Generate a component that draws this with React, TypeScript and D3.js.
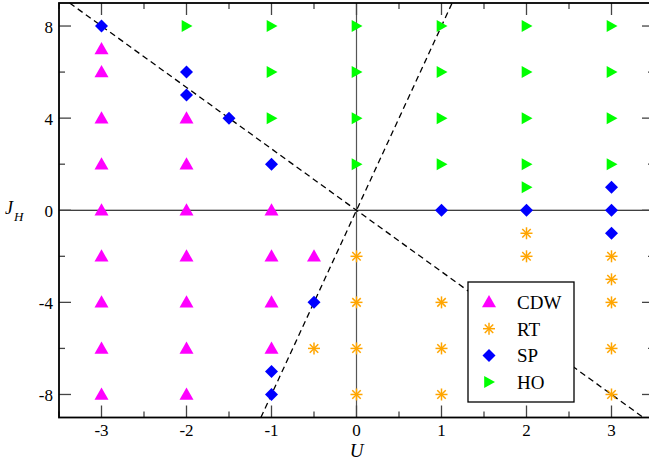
import React from "react";
import * as d3 from "d3";

const W = 649;
const H = 465;

const cdwU = [-3, -3, -3, -3, -3, -3, -3, -3, -3, -2, -2, -2, -2, -2, -2, -2, -1, -1, -1, -1, -0.5];
const cdwJ = [7, 6, 4, 2, 0, -2, -4, -6, -8, 4, 2, 0, -2, -4, -6, -8, 0, -2, -4, -6, -2];

const rtU = [-0.5, 0, 0, 0, 0, 1, 1, 1, 2, 2, 3, 3, 3, 3, 3];
const rtJ = [-6, -2, -4, -6, -8, -4, -6, -8, -1, -2, -2, -3, -4, -6, -8];

const spU = [-3, -2, -2, -1.5, -1, -0.5, -1, -1, 1, 2, 3, 3, 3];
const spJ = [8, 6, 5, 4, 2, -4, -7, -8, 0, 0, 1, 0, -1];

const hoU = [-2, -1, -1, -1, 0, 0, 0, 0, 1, 1, 1, 1, 2, 2, 2, 2, 2, 3, 3, 3, 3];
const hoJ = [8, 8, 6, 4, 8, 6, 4, 2, 8, 6, 4, 2, 8, 6, 4, 2, 1, 8, 6, 4, 2];

const xTicks = [-3, -2, -1, 0, 1, 2, 3];
const xMinor = [-3.5, -2.5, -1.5, -0.5, 0.5, 1.5, 2.5, 3.5];
const yTicks = [-8, -4, 0, 4, 8];
const yMinor = [-6, -2, 2, 6];

const slopes = [-8 / 3, 8];

const legendNames = ["CDW", "RT", "SP", "HO"];
const colors = ["#ff00ff", "#ffa500", "#0000ff", "#00ff00"];

const left = 59;
const right = 654;
const top = 3;
const bottom = 417.5;

function Marker({ kind, x, y }: { kind: number; x: number; y: number }) {
  const c = colors[kind];
  if (kind === 0) {
    const s = 7;
    return <path d={`M${x},${y - s} L${x + s},${y + s * 0.75} L${x - s},${y + s * 0.75} Z`} fill={c} />;
  }
  if (kind === 1) {
    const s = 6;
    const lines = [0, 45, 90, 135].map((a) => {
      const r = (a * Math.PI) / 180;
      return (
        <line key={a} x1={x - s * Math.cos(r)} y1={y - s * Math.sin(r)} x2={x + s * Math.cos(r)} y2={y + s * Math.sin(r)} stroke={c} strokeWidth={1.5} />
      );
    });
    return <g>{lines}</g>;
  }
  if (kind === 2) {
    const s = 6.5;
    return <path d={`M${x},${y - s} L${x + s},${y} L${x},${y + s} L${x - s},${y} Z`} fill={c} />;
  }
  const s = 6;
  return <path d={`M${x - s * 0.8},${y - s} L${x + s},${y} L${x - s * 0.8},${y + s} Z`} fill={c} />;
}

export default function App() {
  const x = d3.scaleLinear().domain([-3.5, 3.5]).range([left, right]);
  const y = d3.scaleLinear().domain([-9, 9]).range([bottom, top]);

  const series = [
    { u: cdwU, j: cdwJ },
    { u: rtU, j: rtJ },
    { u: spU, j: spJ },
    { u: hoU, j: hoJ },
  ];

  const dashLine = (m: number) => {
    const u0 = -3.5, u1 = 3.5;
    const clip = (p: [number, number]): [number, number] => {
      if (p[1] > 9) return [9 / m, 9];
      if (p[1] < -9) return [-9 / m, -9];
      return p;
    };
    const pts: [number, number][] = [clip([u0, m * u0]), clip([u1, m * u1])];
    return d3.line<[number, number]>().x((d) => x(d[0])).y((d) => y(d[1]))(pts) || "";
  };

  const tickLen = 12;
  const minorLen = 6;
  const font = "Liberation Serif, Tinos, Times New Roman, DejaVu Serif, serif";

  const lx = 468, ly = 282, lw = 106, lh = 120;

  return (
    <svg width={W} height={H} style={{ position: "absolute", left: 0, top: 0 }}>
      <rect x={0} y={0} width={W} height={H} fill="white" />
      <line x1={x(0)} x2={x(0)} y1={top} y2={bottom} stroke="#555" strokeWidth={1.2} />
      <line x1={left} x2={right} y1={y(0)} y2={y(0)} stroke="#000" strokeWidth={1.2} />
      {slopes.map((m, i) => (
        <path key={i} d={dashLine(m)} stroke="#000" strokeWidth={1.3} strokeDasharray="6,4" fill="none" />
      ))}
      {series.map((s, k) =>
        s.u.map((u, i) => <Marker key={`${k}-${i}`} kind={k} x={x(u)} y={y(s.j[i])} />)
      )}
      <g stroke="#444" strokeWidth={1.3}>
        {xTicks.map((t) => (
          <g key={`xt${t}`}>
            <line x1={x(t)} x2={x(t)} y1={bottom} y2={bottom - tickLen} />
            <line x1={x(t)} x2={x(t)} y1={top} y2={top + tickLen} />
          </g>
        ))}
        {xMinor.map((t) => (
          <g key={`xm${t}`}>
            <line x1={x(t)} x2={x(t)} y1={bottom} y2={bottom - minorLen} />
            <line x1={x(t)} x2={x(t)} y1={top} y2={top + minorLen} />
          </g>
        ))}
        {yTicks.map((t) => (
          <g key={`yt${t}`}>
            <line x1={left} x2={left + tickLen} y1={y(t)} y2={y(t)} />
            <line x1={right} x2={right - tickLen} y1={y(t)} y2={y(t)} />
          </g>
        ))}
        {yMinor.map((t) => (
          <g key={`ym${t}`}>
            <line x1={left} x2={left + minorLen} y1={y(t)} y2={y(t)} />
            <line x1={right} x2={right - minorLen} y1={y(t)} y2={y(t)} />
          </g>
        ))}
      </g>
      <rect x={left} y={top} width={right - left} height={bottom - top} fill="none" stroke="#000" strokeWidth={1.8} />
      {xTicks.map((t) => (
        <text key={`xl${t}`} x={x(t)} y={436} textAnchor="middle" fontFamily={font} fontSize={17}>
          {t}
        </text>
      ))}
      {yTicks.map((t) => (
        <text key={`yl${t}`} x={53} y={y(t) + 7} textAnchor="end" fontFamily={font} fontSize={17}>
          {t}
        </text>
      ))}
      <text x={x(0)} y={457} textAnchor="middle" fontFamily={font} fontSize={19} fontStyle="italic">
        U
      </text>
      <text x={5} y={214} fontFamily={font} fontSize={18} fontStyle="italic">
        J
        <tspan fontSize={13} dy={7} dx={1}>H</tspan>
      </text>
      <rect x={lx} y={ly} width={lw} height={lh} fill="white" stroke="#000" strokeWidth={1.3} />
      {legendNames.map((n, i) => {
        const yy = ly + 20 + i * 26.7;
        return (
          <g key={n}>
            <Marker kind={i} x={lx + 21} y={yy} />
            <text x={lx + 49} y={yy + 7} fontFamily={font} fontSize={19}>
              {n}
            </text>
          </g>
        );
      })}
    </svg>
  );
}
